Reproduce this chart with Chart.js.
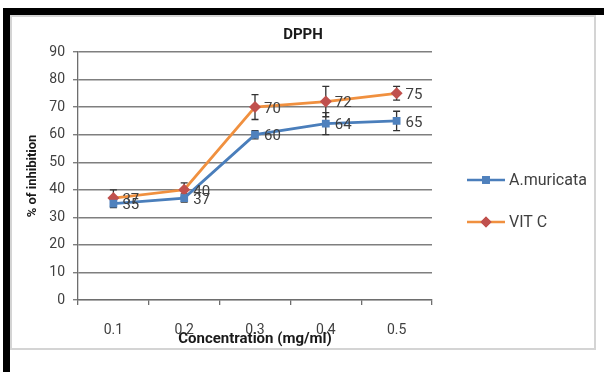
<!DOCTYPE html>
<html>
<head>
<meta charset="utf-8">
<script src="https://cdn.jsdelivr.net/npm/chart.js@4"></script>
<style>
  body { margin: 0; background: #fff; width: 604px; height: 372px; overflow: hidden; position: relative; }
  .bar { position: absolute; background: #000; }
  #frame { position: absolute; left: 10px; top: 15px; width: 586px; height: 335px; border: 2px solid #d4d4d4; box-sizing: border-box; }
  #chart { display: block; }
</style>
</head>
<body>
<div class="bar" style="left:3px;top:8px;width:601px;height:7px"></div>
<div class="bar" style="left:3px;top:8px;width:7px;height:364px"></div>
<div id="frame"><canvas id="chart" width="582" height="331"></canvas></div>
<script>
// Chart data
const concentrations = ['0.1', '0.2', '0.3', '0.4', '0.5'];
const muricataValues = [35, 37, 60, 64, 65];
const muricataErrors = [1.5, 1.5, 1.5, 4, 3.5];
const vitcValues = [37, 40, 70, 72, 75];
const vitcErrors = [3, 2.5, 4.5, 5.5, 2.5];
const seriesNames = ['A.muricata', 'VIT C'];

const BLUE_LINE = '#4a7ebb';
const BLUE_MARK = '#4f81bd';
const ORANGE_LINE = '#f0903f';
const RED_MARK = '#c0504d';
const FONT = 'Roboto, "Liberation Sans", sans-serif';

/**
 * Error bars drawn under the lines, using the chart scales
 */
const errorBars = {
  id: 'errorBars',
  beforeDatasetsDraw(chart) {
    const ctx = chart.ctx;
    const x = chart.scales.x;
    const y = chart.scales.y;
    ctx.save();
    ctx.strokeStyle = '#333';
    ctx.lineWidth = 1.3;
    chart.data.datasets.forEach(ds => {
      ds.data.forEach((v, i) => {
        const px = x.getPixelForValue(i);
        const top = y.getPixelForValue(v + ds.errors[i]);
        const bot = y.getPixelForValue(v - ds.errors[i]);
        ctx.beginPath();
        ctx.moveTo(px, top); ctx.lineTo(px, bot);
        ctx.moveTo(px - 3.5, top); ctx.lineTo(px + 3.5, top);
        ctx.moveTo(px - 3.5, bot); ctx.lineTo(px + 3.5, bot);
        ctx.stroke();
      });
    });
    ctx.restore();
  }
};

/**
 * Value labels, title and legend
 */
const decorations = {
  id: 'decorations',
  afterDatasetsDraw(chart) {
    const ctx = chart.ctx;
    ctx.save();

    // value labels right of each point
    ctx.font = '15px ' + FONT;
    ctx.fillStyle = '#404040';
    ctx.textAlign = 'left';
    ctx.textBaseline = 'middle';
    chart.data.datasets.forEach((ds, di) => {
      chart.getDatasetMeta(di).data.forEach((pt, i) => {
        ctx.fillText(String(ds.data[i]), pt.x + 9, pt.y + 2);
      });
    });

    // chart title, centered on the whole frame
    ctx.font = 'bold 15px ' + FONT;
    ctx.fillStyle = '#1a1a1a';
    ctx.textAlign = 'center';
    ctx.fillText('DPPH', chart.width / 2, 18);

    // legend
    const items = [
      { y: 163, line: BLUE_LINE, mark: BLUE_MARK, style: 'rect' },
      { y: 205, line: ORANGE_LINE, mark: RED_MARK, style: 'rectRot' }
    ];
    items.forEach((it, k) => {
      ctx.strokeStyle = it.line;
      ctx.lineWidth = 2.5;
      ctx.beginPath();
      ctx.moveTo(455, it.y);
      ctx.lineTo(493, it.y);
      ctx.stroke();
      ctx.fillStyle = it.mark;
      Chart.helpers.drawPoint(ctx, { pointStyle: it.style, radius: 5.5, borderWidth: 0 }, 474, it.y);
      ctx.fill();
      ctx.font = '16px ' + FONT;
      ctx.fillStyle = '#404040';
      ctx.textAlign = 'left';
      ctx.fillText(seriesNames[k], 497, it.y + 1);
    });
    ctx.restore();
  }
};

new Chart(document.getElementById('chart'), {
  type: 'line',
  data: {
    labels: concentrations,
    datasets: [
      {
        label: seriesNames[0],
        data: muricataValues,
        errors: muricataErrors,
        borderColor: BLUE_LINE,
        backgroundColor: BLUE_MARK,
        borderWidth: 2.8,
        pointStyle: 'rect',
        pointRadius: 5.5,
        pointBorderWidth: 0,
        tension: 0
      },
      {
        label: seriesNames[1],
        data: vitcValues,
        errors: vitcErrors,
        borderColor: ORANGE_LINE,
        backgroundColor: RED_MARK,
        borderWidth: 2.8,
        pointStyle: 'rectRot',
        pointRadius: 6,
        pointBorderWidth: 0,
        tension: 0
      }
    ]
  },
  options: {
    responsive: false,
    animation: false,
    devicePixelRatio: 1,
    layout: { padding: { top: 35, right: 162, left: 0, bottom: 0 } },
    plugins: {
      legend: { display: false },
      title: { display: false },
      tooltip: { enabled: false }
    },
    scales: {
      x: {
        type: 'category',
        offset: true,
        afterFit(scale) { scale.height = 48; },
        grid: { offset: true, drawOnChartArea: false, drawTicks: true, tickLength: 5, color: '#6e6e6e', lineWidth: 1.3 },
        border: { display: true, color: '#6e6e6e', width: 1.3 },
        ticks: { color: '#404040', font: { family: FONT, size: 14 }, padding: 17, maxRotation: 0 },
        title: {
          display: true,
          text: 'Concentration (mg/ml)',
          color: '#1a1a1a',
          font: { family: FONT, size: 15, weight: 'bold' },
          padding: { top: 0, bottom: 0 }
        }
      },
      y: {
        min: 0,
        max: 90,
        afterFit(scale) { scale.width = 66; },
        grid: { color: '#7f7f7f', lineWidth: 1.4, tickLength: 5 },
        border: { display: true, color: '#6e6e6e', width: 1.3 },
        ticks: { stepSize: 10, color: '#404040', font: { family: FONT, size: 14 }, padding: 8 },
        title: {
          display: true,
          text: '% of inhibition',
          color: '#1a1a1a',
          font: { family: FONT, size: 13, weight: 'bold' },
          padding: { top: 13, bottom: 0 }
        }
      }
    }
  },
  plugins: [errorBars, decorations]
});
</script>
</body>
</html>
